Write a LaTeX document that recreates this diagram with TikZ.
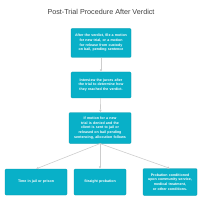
\documentclass[tikz,border=0pt]{standalone}
\usepackage{fontspec}
\setmainfont{Liberation Sans}
\usetikzlibrary{arrows.meta}
\definecolor{boxteal}{RGB}{8,176,200}
\definecolor{linegray}{RGB}{205,205,205}
\newcommand{\stepfont}{\fontsize{3.6}{4.7}\selectfont\bfseries\hyphenpenalty10000\exhyphenpenalty10000\relax}
\begin{document}
\begin{tikzpicture}[x=1pt, y=-1pt,
    stepbox/.style = {fill=boxteal, draw=boxteal!85!black, line width=0.2pt, rounded corners=1pt,
        text=white, font=\stepfont, align=center, inner sep=1pt},
    arr/.style = {draw=linegray, line width=0.6pt, -{Latex[length=2.5pt, width=2.5pt]}}]
    \useasboundingbox (0,0) rectangle (200,200);
    \node[font=\fontsize{7.2}{8}\selectfont, text=black!75] (title) at (101,12) {Post-Trial Procedure After Verdict};
    \node[stepbox, minimum width=60pt, minimum height=29pt, text width=54pt] (motion) at (101,43)
        {After the verdict, file a motion for new trial, or a motion for release from custody on bail, pending sentence};
    \node[stepbox, minimum width=60pt, minimum height=26pt, text width=52pt] (jurors) at (101,85)
        {Interview the jurors after the trial to determine how they reached the verdict.};
    \node[stepbox, minimum width=62pt, minimum height=31pt, text width=52pt] (denied) at (100,128)
        {If motion for a new trial is denied and the client is sent to jail or released on bail pending sentencing, allocution follows};
    \node[stepbox, minimum width=62pt, minimum height=26pt, text width=54pt] (jail) at (36,182)
        {Time in jail or prison};
    \node[stepbox, minimum width=52pt, minimum height=26pt, text width=46pt] (probation) at (100,182)
        {Straight probation};
    \node[stepbox, minimum width=54pt, minimum height=27pt, text width=50pt] (conditions) at (170,182)
        {Probation conditioned upon community service, medical treatment, or other conditions.};
    \draw[arr] (motion) -- (jurors);
    \draw[arr] (jurors) -- (denied);
    \draw[arr] (denied.south) -- (jail.north);
    \draw[arr] (denied.south) -- (probation.north);
    \draw[arr] (denied.south) -- (conditions.north);
\end{tikzpicture}
\end{document}
